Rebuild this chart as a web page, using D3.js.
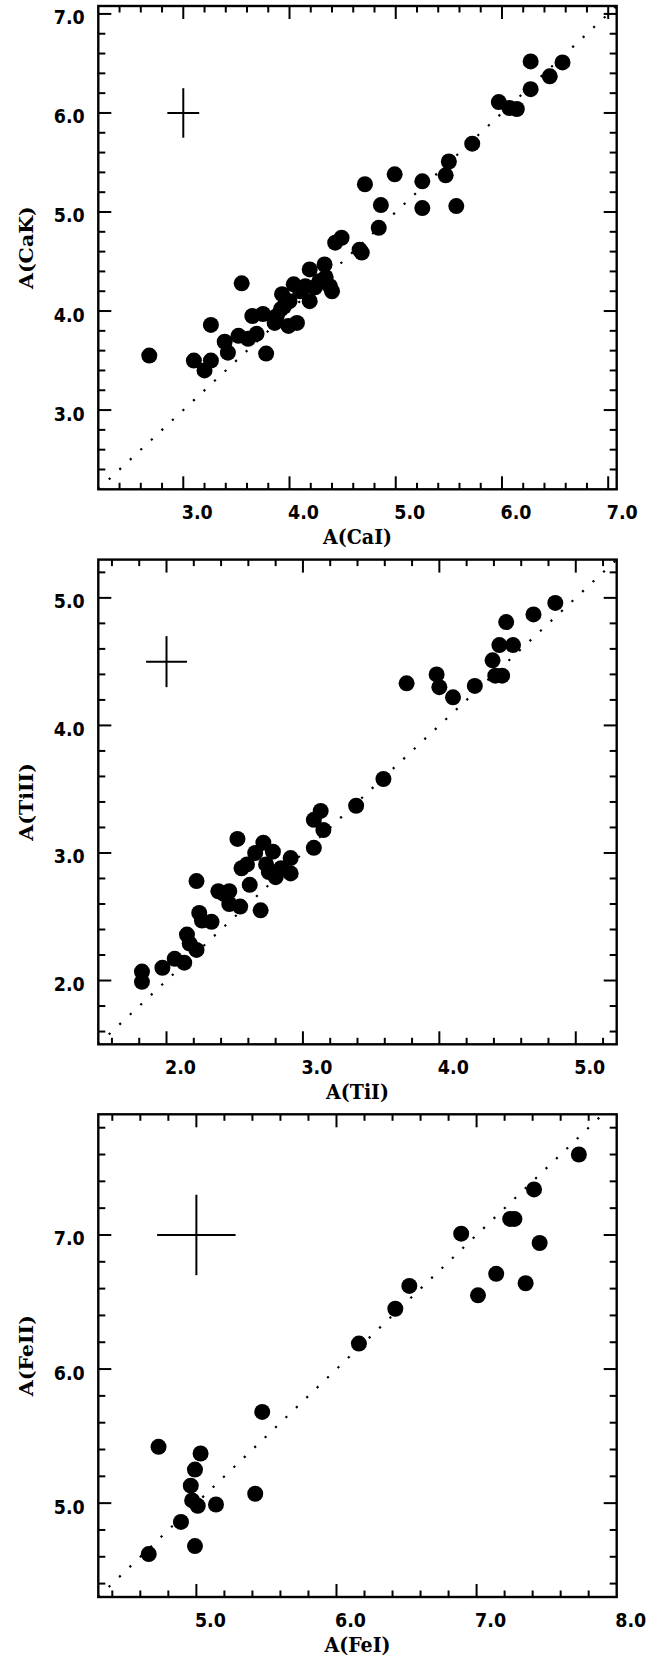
<!DOCTYPE html>
<html><head><meta charset="utf-8">
<script src="https://cdn.jsdelivr.net/npm/d3@7"></script>
<style>html,body{margin:0;padding:0;background:#fff;}svg{display:block;}</style>
</head><body>
<script>
// ---- data ----
const caI = [2.68,3.10,3.20,3.26,3.26,3.39,3.42,3.52,3.55,3.61,3.69,3.65,3.78,3.75,3.86,3.93,3.92,3.99,4.04,4.07,3.95,3.88,4.00,4.10,4.19,4.19,4.24,4.15,4.28,4.33,4.38,4.34,4.40,4.43,4.49,4.66,4.68,4.71,4.84,4.86,4.99,5.25,5.25,5.47,5.50,5.57,5.72,5.97,6.07,6.14,6.27,6.27,6.45,6.57];
const caK = [3.55,3.50,3.40,3.50,3.86,3.69,3.58,3.75,4.28,3.72,3.77,3.95,3.57,3.97,3.88,4.17,4.02,3.85,4.27,3.88,4.05,3.95,4.10,4.20,4.42,4.10,4.24,4.25,4.30,4.47,4.25,4.34,4.20,4.69,4.74,4.62,4.59,5.28,4.84,5.07,5.38,5.31,5.04,5.37,5.51,5.06,5.69,6.11,6.05,6.04,6.52,6.24,6.37,6.51];
const tiI = [1.82,1.82,1.97,2.06,2.13,2.15,2.17,2.22,2.22,2.24,2.26,2.33,2.38,2.42,2.46,2.46,2.52,2.55,2.54,2.59,2.61,2.65,2.69,2.71,2.73,2.78,2.80,2.75,2.84,2.91,2.91,3.08,3.08,3.13,3.15,3.39,3.59,3.76,3.98,4.00,4.10,4.26,4.39,4.41,4.46,4.44,4.54,4.49,4.69,4.85];
const tiII = [2.07,1.99,2.10,2.17,2.14,2.36,2.29,2.24,2.78,2.53,2.47,2.46,2.70,2.68,2.70,2.60,3.11,2.88,2.58,2.91,2.75,3.00,2.55,3.08,2.91,3.01,2.81,2.85,2.88,2.96,2.84,3.04,3.26,3.33,3.18,3.37,3.58,4.33,4.40,4.30,4.22,4.31,4.51,4.39,4.39,4.63,4.63,4.81,4.87,4.96];
const feI = [4.66,4.73,4.89,4.96,4.99,4.97,5.01,4.99,5.03,5.14,5.42,5.47,6.16,6.42,6.52,6.89,7.01,7.14,7.24,7.27,7.35,7.41,7.45,7.73];
const feII = [4.62,5.42,4.86,5.13,4.68,5.02,4.98,5.25,5.37,4.99,5.07,5.68,6.19,6.45,6.62,7.01,6.55,6.71,7.12,7.12,6.64,7.34,6.94,7.60];

const xTicks1 = [3.0,4.0,5.0,6.0,7.0];
const yTicks1 = [3.0,4.0,5.0,6.0,7.0];
const xTicks2 = [2.0,3.0,4.0,5.0];
const yTicks2 = [2.0,3.0,4.0,5.0];
const xTicks3 = [5.0,6.0,7.0,8.0];
const yTicks3 = [5.0,6.0,7.0];

const xTitles = ["A(CaI)","A(TiI)","A(FeI)"];
const yTitles = ["A(CaK)","A(TiII)","A(FeII)"];

// representative error bars: [x, y, ±x, ±y]
const err1 = [3.0, 6.0, 0.15, 0.25];
const err2 = [2.0, 4.5, 0.15, 0.20];
const err3 = [5.0, 7.0, 0.28, 0.30];

// ---- layout ----
const W = 670, H = 1659;
const svg = d3.select("body").append("svg").attr("width", W).attr("height", H);

const panels = [
  {xs: caI, ys: caK, xdom:[2.2,7.08], ydom:[2.2,7.08], xt:xTicks1, yt:yTicks1, err:err1, top:6,    bottom:489.3},
  {xs: tiI, ys: tiII, xdom:[1.5,5.3], ydom:[1.5,5.3], xt:xTicks2, yt:yTicks2, err:err2, top:559.6, bottom:1044.3},
  {xs: feI, ys: feII, xdom:[4.3,8.0], ydom:[4.3,7.9], xt:xTicks3, yt:yTicks3, err:err3, top:1114.3, bottom:1597}
];
const left = 98.3, right = 616.7;
const fmt = d3.format(".1f");
const tickFont = "'DejaVu Sans', sans-serif";
const titleFont = "'DejaVu Serif', serif";

panels.forEach((p, i) => {
  const x = d3.scaleLinear().domain(p.xdom).range([left, right]);
  const y = d3.scaleLinear().domain(p.ydom).range([p.bottom, p.top]);
  const g = svg.append("g");

  const cid = "clip" + i;
  svg.append("clipPath").attr("id", cid).append("rect")
    .attr("x", left).attr("y", p.top).attr("width", right-left).attr("height", p.bottom-p.top);

  // one-to-one dotted line
  const lo = Math.max(p.xdom[0], p.ydom[0]), hi = Math.min(p.xdom[1], p.ydom[1]);
  g.append("line").attr("x1", x(lo)).attr("y1", y(lo)).attr("x2", x(hi)).attr("y2", y(hi))
    .attr("stroke", "#000").attr("stroke-width", 2.2).attr("stroke-dasharray", "2.2,12.2")
    .attr("clip-path", `url(#${cid})`);

  // points
  g.append("g").selectAll("circle").data(d3.range(p.xs.length)).join("circle")
    .attr("cx", k => x(p.xs[k])).attr("cy", k => y(p.ys[k])).attr("r", 8).attr("fill", "#000");

  // error cross
  const [ex, ey, dx, dy] = p.err;
  g.append("line").attr("x1", x(ex-dx)).attr("x2", x(ex+dx)).attr("y1", y(ey)).attr("y2", y(ey))
    .attr("stroke", "#000").attr("stroke-width", 2);
  g.append("line").attr("x1", x(ex)).attr("x2", x(ex)).attr("y1", y(ey-dy)).attr("y2", y(ey+dy))
    .attr("stroke", "#000").attr("stroke-width", 2);

  // minor/major ticks (inward, all four sides)
  const minorX = d3.range(Math.ceil(p.xdom[0]*5+1e-6), Math.floor(p.xdom[1]*5-1e-6)+1).map(v => v/5);
  const minorY = d3.range(Math.ceil(p.ydom[0]*5+1e-6), Math.floor(p.ydom[1]*5-1e-6)+1).map(v => v/5);
  const isMajor = v => Math.abs(v - Math.round(v)) < 1e-6;
  const tk = g.append("g").attr("stroke", "#000").attr("stroke-width", 2);
  minorX.forEach(v => {
    const L = isMajor(v) ? 13 : 6.5;
    tk.append("line").attr("x1", x(v)).attr("x2", x(v)).attr("y1", p.bottom).attr("y2", p.bottom - L);
    tk.append("line").attr("x1", x(v)).attr("x2", x(v)).attr("y1", p.top).attr("y2", p.top + L);
  });
  minorY.forEach(v => {
    const L = isMajor(v) ? 13 : 7;
    tk.append("line").attr("y1", y(v)).attr("y2", y(v)).attr("x1", left).attr("x2", left + L);
    tk.append("line").attr("y1", y(v)).attr("y2", y(v)).attr("x1", right).attr("x2", right - L);
  });

  // frame
  g.append("rect").attr("x", left).attr("y", p.top).attr("width", right-left).attr("height", p.bottom-p.top)
    .attr("fill", "none").attr("stroke", "#000").attr("stroke-width", 2.4);

  // tick labels (slightly tall glyphs, as in the reference)
  g.append("g").selectAll("text").data(p.xt).join("text")
    .attr("transform", v => `translate(${x(v) + 14},${p.bottom + 30}) scale(1,1.15)`)
    .attr("text-anchor", "middle").attr("font-family", tickFont).attr("font-weight", "bold")
    .attr("font-size", 17.5).text(fmt);
  g.append("g").selectAll("text").data(p.yt).join("text")
    .attr("transform", v => `translate(${left - 13.5},${y(v) + 10.5}) scale(1,1.15)`)
    .attr("text-anchor", "end").attr("font-family", tickFont).attr("font-weight", "bold")
    .attr("font-size", 17.5).text(fmt);

  // titles
  g.append("text").attr("transform", `translate(${(left+right)/2},${p.bottom + 55}) scale(1,1.12)`)
    .attr("text-anchor", "middle").attr("font-family", titleFont).attr("font-weight", "bold")
    .attr("font-size", 19).text(xTitles[i]);
  g.append("text").attr("transform", `translate(33,${(p.top+p.bottom)/2}) rotate(-90) scale(1.08,1)`)
    .attr("text-anchor", "middle").attr("font-family", titleFont).attr("font-weight", "bold")
    .attr("font-size", 19).text(yTitles[i]);
});
</script>
</body></html>
